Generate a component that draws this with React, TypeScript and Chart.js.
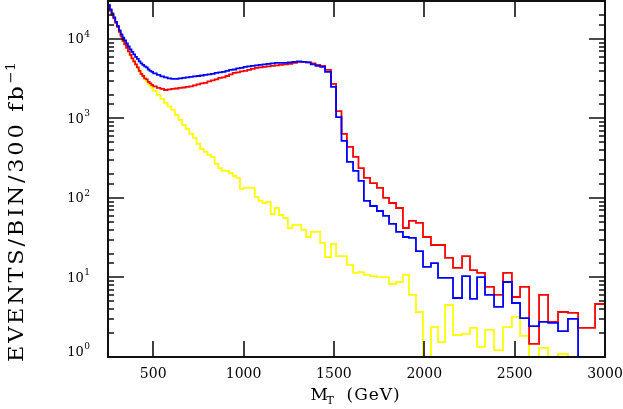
import React, { useEffect, useRef } from 'react';
import { Chart, registerables } from 'chart.js';

Chart.register(...registerables);

// Bin edges in GeV (variable-width bins)
const binEdges = [
  250, 260, 270, 280, 290, 300, 310, 320, 330, 340, 350, 360, 370, 380, 390, 400, 410, 420, 430, 440, 450, 460, 470, 480, 490, 500,
  520, 540, 560, 580, 600, 620, 640, 660, 680, 700, 720, 740, 760, 780, 800, 820, 840, 860, 880, 900, 920, 940, 960, 980, 1000,
  1020, 1041, 1062, 1083, 1105, 1127, 1150, 1173, 1196, 1220, 1245, 1270, 1295, 1320, 1346, 1372, 1398, 1424, 1451,
  1484, 1512, 1542, 1572, 1606, 1636, 1666, 1700, 1738, 1772, 1805, 1844, 1882, 1915, 1954, 1993, 2037, 2076, 2115, 2159,
  2209, 2253, 2292, 2336, 2386, 2436, 2485, 2530, 2580, 2635, 2685, 2740, 2795, 2851, 2900, 2945, 3000,
];

const redValues = [
  26000, 22800, 20300, 18100, 15900, 14200, 12300, 10800, 9440, 8530, 7710, 6960, 6290, 5690, 5210, 4780, 4380, 3960, 3630, 3420, 3190, 3100, 2880, 2760, 2640,
  2530, 2420, 2350, 2280, 2320, 2350, 2380, 2420, 2450, 2490, 2530, 2600, 2680, 2760, 2800, 2920, 3010, 3100, 3230, 3280, 3420, 3580, 3740, 3790, 3900,
  3960, 4080, 4200, 4320, 4380, 4450, 4510, 4580, 4640, 4710, 4780, 4850, 4990, 5140, 5140, 5060, 4920, 4710, 4580,
  4080, 2720, 1240, 639, 438, 328, 238, 179, 154, 134, 100, 86.5, 74.8, 41.9, 51.4, 48.5, 32.3, 25.6, 25.6, 17.6,
  13.2, 18.6, 12.4, 11.4, 7.6, 6.03, 11.4, 5.68, 7.6, 1.46, 6.03, 2.76, 3.68, 3.58, 2.32, 2.32, 4.64,
];

const blueValues = [
  26800, 23500, 20900, 18700, 16400, 14600, 12800, 11400, 10400, 9580, 8780, 8050, 7380, 6860, 6390, 5940, 5600, 5210, 4920, 4710, 4510, 4380, 4130, 3960, 3850,
  3680, 3530, 3380, 3280, 3190, 3140, 3140, 3190, 3230, 3280, 3330, 3380, 3420, 3470, 3530, 3580, 3630, 3740, 3790, 3850, 3960, 4080, 4130, 4260, 4320,
  4450, 4510, 4580, 4640, 4710, 4780, 4850, 4920, 4990, 4990, 4990, 5060, 5140, 5210, 5140, 5060, 4780, 4580, 4450,
  3850, 2490, 1040, 521, 284, 219, 164, 91.7, 79.3, 68.6, 59.4, 47.1, 37.4, 32.3, 31.4, 21.5, 13.6, 15.2, 9.86, 9.86,
  5.52, 10.4, 5.37, 10.1, 6.03, 4.26, 8.78, 4.78, 3.09, 2.45, 2.76, 2.68, 2.12, 3.01, 0, 0, 0,
];

const yellowValues = [
  26000, 22800, 20300, 18100, 15900, 14200, 12300, 10800, 9440, 8530, 7710, 6960, 6290, 5690, 5210, 4780, 4380, 3960, 3630, 3420, 3100, 2920, 2720, 2560, 2420,
  2220, 1980, 1760, 1570, 1420, 1280, 1110, 958, 828, 738, 639, 569, 478, 413, 379, 348, 328, 268, 238, 219, 219, 206, 189, 179, 130,
  134, 134, 134, 103, 91.7, 86.5, 89.1, 62.9, 74.8, 61.1, 56.0, 41.9, 45.8, 45.8, 39.6, 32.3, 37.4, 37.4, 27.2,
  18.1, 26.4, 18.6, 18.6, 14.4, 11.4, 11.7, 10.8, 10.4, 10.1, 10.1, 8.28, 8.78, 10.8, 6.03, 3.68, 0, 2.38, 1.54, 4.51,
  1.89, 1.95, 2.32, 1.34, 2.19, 1.22, 2.38, 3.19, 1.84, 0, 1.3, 0, 1.09, 0, 0, 0, 0,
];

const xLabelValues = [500, 1000, 1500, 2000, 2500, 3000];
const yDecadeLabels = ['0', '1', '2', '3', '4'];
const yLabelBase = '10';
const xTitleMain = 'M';
const xTitleSub = 'T';
const xTitleUnit = '(GeV)';
const yTitleMain = 'EVENTS/BIN/300 fb';
const yTitleExp = '−1';

const X_MIN = 250;
const X_MAX = 3000;
const Y_MIN = 1;
const Y_MAX = 30000;

function stepPoints(values: number[]) {
  const pts = values.map((v, i) => ({ x: binEdges[i], y: v > 0 ? v : 0.01 }));
  pts.push({ x: binEdges[binEdges.length - 1], y: pts[pts.length - 1].y });
  return pts;
}

function isDecade(v: number) {
  const lg = Math.log10(v);
  return Math.abs(lg - Math.round(lg)) < 1e-6;
}

const FONT = '"DejaVu Serif"';

const framePlugin = {
  id: 'frameTicks',
  afterDatasetsDraw(chart: any) {
    const { ctx, chartArea: a, scales } = chart;
    const xs = scales.x;
    const ys = scales.y;
    ctx.save();
    ctx.strokeStyle = '#111';
    ctx.lineWidth = 2;
    ctx.strokeRect(a.left, a.top, a.right - a.left, a.bottom - a.top);
    ctx.lineWidth = 1.6;
    ctx.beginPath();
    xs.ticks.forEach((t: any) => {
      const v = t.value;
      if (Math.round(v) % 100 !== 0) return;
      const px = Math.round(xs.getPixelForValue(v));
      const len = v % 500 === 0 ? 16 : 6;
      ctx.moveTo(px, a.bottom);
      ctx.lineTo(px, a.bottom - len);
      ctx.moveTo(px, a.top);
      ctx.lineTo(px, a.top + len);
    });
    ys.ticks.forEach((t: any) => {
      const v = t.value;
      const py = Math.round(ys.getPixelForValue(v));
      const len = isDecade(v) ? 16 : 6;
      ctx.moveTo(a.left, py);
      ctx.lineTo(a.left + len, py);
      ctx.moveTo(a.right, py);
      ctx.lineTo(a.right - len, py);
    });
    ctx.stroke();

    // y tick labels: 10 with a raised exponent
    ctx.fillStyle = '#000';
    ctx.textAlign = 'left';
    ctx.textBaseline = 'alphabetic';
    ys.ticks.forEach((t: any) => {
      const v = t.value;
      if (!isDecade(v)) return;
      const e = Math.round(Math.log10(v));
      const expText = yDecadeLabels[e];
      if (expText === undefined) return;
      let py = ys.getPixelForValue(v);
      if (v === Y_MIN) py -= 6;
      ctx.font = '13px ' + FONT;
      const wBase = ctx.measureText(yLabelBase).width;
      ctx.font = '9px ' + FONT;
      const wExp = ctx.measureText(expText).width;
      const x0 = a.left - 18 - wExp - wBase - 0.5;
      ctx.font = '13px ' + FONT;
      ctx.fillText(yLabelBase, x0, py + 4.5);
      ctx.font = '9px ' + FONT;
      ctx.fillText(expText, x0 + wBase + 0.5, py - 2);
    });

    // x-axis title with subscript
    const cx = (a.left + a.right) / 2;
    ctx.font = '17px ' + FONT;
    ctx.fillText(xTitleMain, cx - 46, 400);
    ctx.font = '11px ' + FONT;
    ctx.fillText(xTitleSub, cx - 30, 404);
    ctx.font = '17px ' + FONT;
    (ctx as any).letterSpacing = '1px';
    ctx.fillText(xTitleUnit, cx - 10, 400);
    (ctx as any).letterSpacing = '0px';

    // y-axis title, rotated, with superscript exponent
    ctx.translate(23, 362);
    ctx.rotate(-Math.PI / 2);
    ctx.scale(1.12, 1);
    ctx.font = '20px ' + FONT;
    const wMain = ctx.measureText(yTitleMain).width;
    ctx.font = '13px ' + FONT;
    const wE = ctx.measureText(yTitleExp).width;
    const target = 300 / 1.12;
    const gaps = yTitleMain.length;
    const spacing = Math.max(0, (target - wMain - wE) / gaps);
    (ctx as any).letterSpacing = spacing.toFixed(2) + 'px';
    ctx.font = '20px ' + FONT;
    ctx.fillText(yTitleMain, 0, 0);
    (ctx as any).letterSpacing = '0px';
    ctx.font = '13px ' + FONT;
    ctx.fillText(yTitleExp, wMain + spacing * gaps, -8);
    ctx.restore();
  },
};

export default function App() {
  const canvasRef = useRef<HTMLCanvasElement>(null);

  useEffect(() => {
    if (!canvasRef.current) return;
    const lineDs = (label: string, values: number[], color: string) => ({
      label,
      data: stepPoints(values),
      borderColor: color,
      backgroundColor: color,
      borderWidth: 1.8,
      pointRadius: 0,
      stepped: true,
      fill: false,
      tension: 0,
    });
    const chart = new Chart(canvasRef.current, {
      type: 'line',
      data: {
        datasets: [
          lineDs('blue', blueValues, '#0000ff'),
          lineDs('red', redValues, '#ff0000'),
          lineDs('yellow', yellowValues, '#ffff00'),
        ],
      },
      options: {
        animation: false,
        responsive: false,
        devicePixelRatio: 1,
        layout: { padding: { left: 0, right: 18, top: 1, bottom: 0 } },
        plugins: { legend: { display: false }, tooltip: { enabled: false } },
        scales: {
          x: {
            type: 'linear',
            min: X_MIN,
            max: X_MAX,
            grid: { display: false, drawTicks: false },
            border: { display: false },
            afterFit: (s: any) => {
              s.height = 52;
              s.paddingLeft = 0;
              s.paddingRight = 0;
            },
            ticks: {
              stepSize: 100,
              autoSkip: false,
              maxRotation: 0,
              padding: 9,
              color: '#000',
              font: { family: 'DejaVu Serif', size: 14 },
              callback: (v: any) => (xLabelValues.includes(Number(v)) ? String(v) : null),
            },
          },
          y: {
            type: 'logarithmic',
            min: Y_MIN,
            max: Y_MAX,
            grid: { display: false, drawTicks: false },
            border: { display: false },
            afterFit: (s: any) => {
              s.width = 108;
              s.paddingTop = 0;
              s.paddingBottom = 0;
            },
            ticks: {
              display: false,
              autoSkip: false,
            },
          },
        },
      },
      plugins: [framePlugin],
    } as any);
    return () => chart.destroy();
  }, []);

  return (
    <div style={{ position: 'fixed', left: 0, top: 0, width: 623, height: 409, background: '#fff' }}>
      <canvas ref={canvasRef} width={623} height={409} style={{ display: 'block' }} />
    </div>
  );
}
